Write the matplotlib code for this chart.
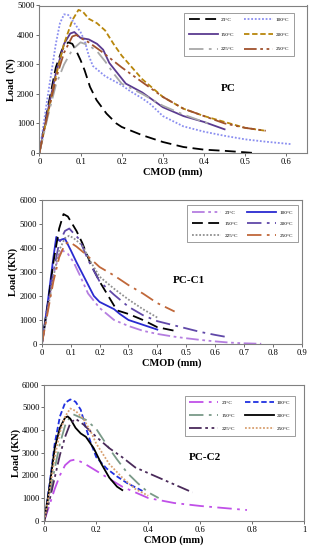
import numpy as np
import matplotlib
matplotlib.use("Agg")
import matplotlib.pyplot as plt

plt.rcParams['font.family'] = ['Liberation Serif', 'DejaVu Serif']

temps = ['23°C', '100°C', '150°C', '200°C', '225°C', '250°C']

# ---- PC (N)
pc_23_x = [0, 0.02, 0.04, 0.055, 0.07, 0.08, 0.09, 0.1, 0.11, 0.123, 0.139, 0.163, 0.187, 0.2, 0.25, 0.3, 0.35, 0.4, 0.45, 0.5, 0.52]
pc_23_y = [0, 1500, 2900, 3500, 3750, 3700, 3450, 3150, 2800, 2240, 1790, 1335, 1000, 880, 600, 370, 200, 110, 70, 20, 0]
pc_100_x = [0, 0.02, 0.04, 0.05, 0.06, 0.07, 0.08, 0.09, 0.1, 0.11, 0.12, 0.13, 0.16, 0.2, 0.22, 0.25, 0.27, 0.3, 0.35, 0.4, 0.45, 0.5, 0.55, 0.61]
pc_100_y = [0, 1900, 3700, 4400, 4700, 4680, 4500, 4300, 4100, 3800, 3300, 2950, 2600, 2300, 2100, 1850, 1650, 1250, 900, 720, 580, 460, 380, 300]
pc_150_x = [0, 0.02, 0.04, 0.06, 0.075, 0.085, 0.1, 0.12, 0.14, 0.155, 0.17, 0.19, 0.21, 0.25, 0.3, 0.35, 0.4, 0.45]
pc_150_y = [0, 1400, 2700, 3700, 4050, 4100, 3900, 3850, 3700, 3500, 3050, 2700, 2350, 2050, 1550, 1250, 1050, 800]
pc_200_x = [0, 0.02, 0.04, 0.06, 0.08, 0.095, 0.105, 0.12, 0.14, 0.16, 0.18, 0.2, 0.25, 0.3, 0.35, 0.4, 0.45, 0.5, 0.55]
pc_200_y = [0, 1300, 2600, 3700, 4500, 4850, 4800, 4550, 4400, 4150, 3700, 3300, 2500, 1900, 1500, 1250, 1050, 850, 750]
pc_225_x = [0, 0.02, 0.04, 0.06, 0.08, 0.1, 0.12, 0.14, 0.16, 0.18, 0.2, 0.25, 0.3, 0.35, 0.42]
pc_225_y = [0, 1200, 2300, 3000, 3500, 3750, 3650, 3450, 3100, 2700, 2350, 2000, 1600, 1300, 950]
pc_250_x = [0, 0.02, 0.04, 0.06, 0.08, 0.09, 0.1, 0.12, 0.15, 0.2, 0.25, 0.3, 0.35, 0.4, 0.45, 0.5, 0.55]
pc_250_y = [0, 1300, 2500, 3400, 3950, 4000, 3900, 3750, 3450, 2900, 2400, 1900, 1500, 1250, 1000, 850, 750]

# ---- PC-C1 (KN)
c1_23_x = [0, 0.02, 0.04, 0.06, 0.07, 0.09, 0.11, 0.13, 0.16, 0.2, 0.25, 0.3, 0.35, 0.4, 0.45, 0.5, 0.55, 0.6, 0.65, 0.7, 0.76]
c1_23_y = [0, 1500, 2900, 3700, 3900, 3750, 3400, 2900, 2100, 1500, 1000, 750, 550, 420, 320, 240, 170, 110, 60, 30, 10]
c1_100_x = [0, 0.02, 0.04, 0.05, 0.06, 0.07, 0.08, 0.1, 0.12, 0.15, 0.18, 0.2, 0.25, 0.27, 0.3, 0.35, 0.4]
c1_100_y = [0, 1700, 3600, 4450, 4300, 4350, 4380, 3900, 3400, 2700, 2000, 1750, 1450, 1250, 1000, 800, 600]
c1_150_x = [0, 0.02, 0.04, 0.06, 0.075, 0.09, 0.1, 0.12, 0.14, 0.17, 0.2, 0.23, 0.26, 0.3, 0.35, 0.4, 0.46]
c1_150_y = [0, 1600, 3400, 4800, 5400, 5300, 5100, 4700, 4200, 3300, 2600, 2000, 1400, 1250, 1000, 700, 550]
c1_200_x = [0, 0.02, 0.04, 0.06, 0.08, 0.095, 0.11, 0.13, 0.16, 0.2, 0.25, 0.3, 0.35, 0.4, 0.45, 0.5, 0.55, 0.6, 0.65]
c1_200_y = [0, 1500, 3000, 4200, 4700, 4800, 4600, 4350, 3500, 2600, 2050, 1550, 1200, 950, 800, 650, 500, 380, 270]
c1_225_x = [0, 0.02, 0.04, 0.06, 0.08, 0.095, 0.11, 0.14, 0.17, 0.2, 0.25, 0.3, 0.35, 0.4]
c1_225_y = [0, 1400, 2800, 3900, 4400, 4500, 4400, 4100, 3400, 2800, 2300, 1850, 1450, 1100]
c1_250_x = [0, 0.02, 0.04, 0.06, 0.08, 0.095, 0.12, 0.15, 0.2, 0.25, 0.3, 0.35, 0.4, 0.46]
c1_250_y = [0, 1300, 2600, 3600, 4150, 4250, 4050, 3750, 3200, 2850, 2450, 2100, 1700, 1350]

# ---- PC-C2 (KN)
c2_23_x = [0, 0.02, 0.04, 0.06, 0.08, 0.1, 0.12, 0.15, 0.2, 0.25, 0.3, 0.35, 0.4, 0.5, 0.6, 0.7, 0.78]
c2_23_y = [0, 700, 1400, 2000, 2450, 2650, 2700, 2550, 2200, 1850, 1500, 1250, 1000, 780, 650, 550, 470]
c2_100_x = [0, 0.02, 0.04, 0.06, 0.08, 0.1, 0.12, 0.14, 0.16, 0.18, 0.2, 0.24, 0.28, 0.32, 0.38]
c2_100_y = [0, 1600, 3400, 4600, 5200, 5350, 5250, 4900, 4100, 3400, 2800, 2300, 1950, 1650, 1300]
c2_150_x = [0, 0.02, 0.04, 0.06, 0.08, 0.1, 0.11, 0.13, 0.16, 0.2, 0.24, 0.28, 0.32, 0.36, 0.4, 0.44]
c2_150_y = [0, 1100, 2300, 3400, 4200, 4600, 4700, 4600, 4450, 4050, 3350, 2700, 2100, 1650, 1250, 1000]
c2_200_x = [0, 0.02, 0.04, 0.06, 0.08, 0.09, 0.1, 0.12, 0.14, 0.16, 0.19, 0.22, 0.25, 0.28, 0.3]
c2_200_y = [0, 1500, 3200, 4100, 4550, 4600, 4500, 4100, 3850, 3700, 3200, 2500, 1900, 1500, 1350]
c2_225_x = [0, 0.02, 0.04, 0.06, 0.08, 0.1, 0.12, 0.15, 0.2, 0.25, 0.3, 0.35, 0.4, 0.45, 0.5, 0.57]
c2_225_y = [0, 900, 1900, 2900, 3700, 4300, 4500, 4250, 3700, 3200, 2800, 2350, 2100, 1850, 1600, 1250]
c2_250_x = [0, 0.02, 0.04, 0.06, 0.08, 0.1, 0.12, 0.15, 0.18, 0.2, 0.25, 0.3, 0.35, 0.4]
c2_250_y = [0, 1300, 2800, 3900, 4600, 4950, 4850, 4500, 3900, 3400, 2500, 1900, 1400, 1100]

pc_series = [(pc_23_x, pc_23_y), (pc_100_x, pc_100_y), (pc_150_x, pc_150_y),
             (pc_200_x, pc_200_y), (pc_225_x, pc_225_y), (pc_250_x, pc_250_y)]
c1_series = [(c1_23_x, c1_23_y), (c1_100_x, c1_100_y), (c1_150_x, c1_150_y),
             (c1_200_x, c1_200_y), (c1_225_x, c1_225_y), (c1_250_x, c1_250_y)]
c2_series = [(c2_23_x, c2_23_y), (c2_100_x, c2_100_y), (c2_150_x, c2_150_y),
             (c2_200_x, c2_200_y), (c2_225_x, c2_225_y), (c2_250_x, c2_250_y)]

dash = (0, (6, 3))
sdash = (0, (3, 1.5))
dot = (0, (1, 1))
dashdot = (0, (8, 3, 1.5, 3))
dashdotdot = (0, (7, 2, 1.5, 2, 1.5, 2))

pc_styles = [('black', dash), ('#8a8ef0', dot), ('#5a3a90', '-'),
             ('#b8860b', sdash), ('#a8a8a8', dashdot), ('#a0522d', dashdotdot)]
c1_styles = [('#b57ee0', dashdotdot), ('#2a2ad0', '-'), ('black', dash),
             ('#6048a8', dashdot), ('#909090', dot), ('#c0683a', dashdot)]
c2_styles = [('#c050e8', dashdot), ('#2030e0', sdash), ('#7a9a88', dashdot),
             ('black', '-'), ('#4a2a5a', dashdotdot), ('#d8a070', dot)]


def panel(rect, series, styles, xmax, xticks, ymax, ylabel, name, name_xy, leg_box, lsp):
    ax = fig.add_axes(rect)
    lines = []
    for (x, y), (c, ls), t in zip(series, styles, temps):
        ln, = ax.plot(x, y, color=c, linestyle=ls, lw=1.3, label=t)
        lines.append(ln)
    ax.set_xlim(0, xmax)
    ax.set_ylim(0, ymax)
    ax.set_xticks(xticks)
    ax.set_xticklabels(['0' if v == 0 else ('%g' % v) for v in xticks])
    ax.set_yticks(np.arange(0, ymax + 1, 1000))
    ax.tick_params(labelsize=6.2, length=2, width=0.6, color='#555555', pad=1.5)
    for s in ax.spines.values():
        s.set_color('#808080')
        s.set_linewidth(0.8)
    ax.set_xlabel('CMOD (mm)', fontsize=7.5, fontweight='bold', labelpad=1)
    ax.set_ylabel(ylabel, fontsize=7.5, fontweight='bold', labelpad=1)
    ax.text(name_xy[0], name_xy[1], name, fontsize=8, fontweight='bold', ha='center', va='center')
    order = [0, 2, 4, 1, 3, 5]
    leg = ax.legend([lines[i] for i in order], [temps[i] for i in order], ncol=2,
                    fontsize=3.8, loc='upper left', bbox_to_anchor=leg_box,
                    fancybox=False, edgecolor='#707070', handlelength=5.5,
                    handletextpad=0.6, columnspacing=1.8, borderpad=0.9,
                    labelspacing=lsp, markerfirst=True)
    leg.get_frame().set_linewidth(0.6)
    return ax


fig = plt.figure(figsize=(3.1, 5.5), dpi=100)

panel([0.127, 0.722, 0.863, 0.268], pc_series, pc_styles, 0.65,
      [0, 0.1, 0.2, 0.3, 0.4, 0.5, 0.6], 5000, 'Load  (N)', 'PC', (0.46, 2200),
      (0.53, 0.97), 1.9)
panel([0.135, 0.3745, 0.838, 0.2625], c1_series, c1_styles, 0.9,
      [0, 0.1, 0.2, 0.3, 0.4, 0.5, 0.6, 0.7, 0.8, 0.9], 6000, 'Load (KN)', 'PC-C1', (0.51, 2660),
      (0.55, 0.98), 1.3)
panel([0.143, 0.0533, 0.838, 0.2472], c2_series, c2_styles, 1.0,
      [0, 0.2, 0.4, 0.6, 0.8, 1.0], 6000, 'Load (KN)', 'PC-C2', (0.62, 2770),
      (0.53, 0.94), 1.6)

fig.savefig('out.png', dpi=100)
